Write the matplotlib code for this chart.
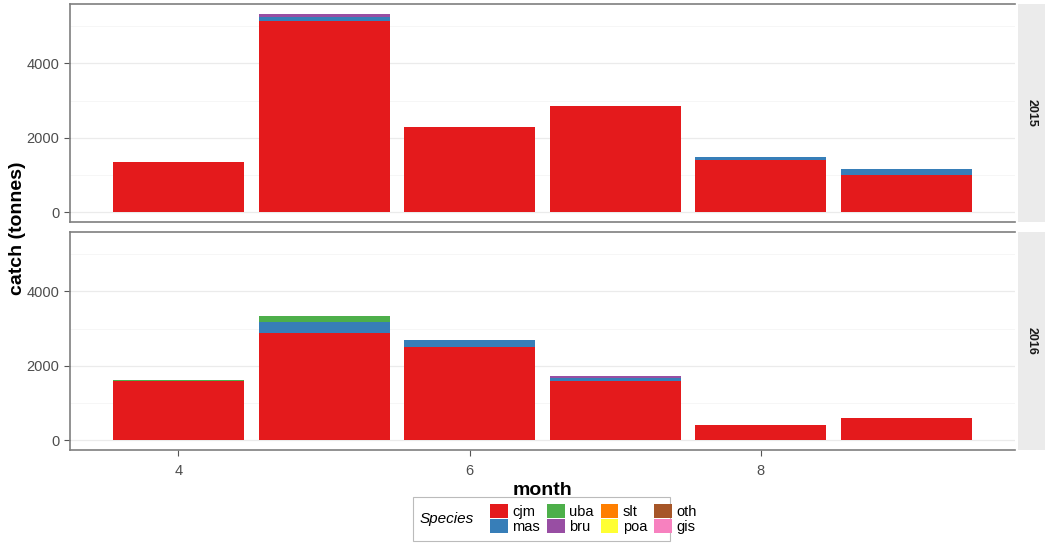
import numpy as np
import matplotlib.pyplot as plt
from matplotlib.patches import Rectangle, Patch

plt.rcParams['font.family'] = ['Liberation Sans', 'DejaVu Sans']

months = [4, 5, 6, 7, 8, 9]
species = ['cjm', 'mas', 'uba', 'bru', 'slt', 'poa', 'oth', 'gis']
colours = ['#E41A1C', '#377EB8', '#4DAF4A', '#984EA3',
           '#FF7F00', '#FFFF33', '#A65628', '#F781BF']

# catch in tonnes by month, one list per species
catch_2015 = {
    'cjm': [1350, 5130, 2290, 2850, 1400, 1000],
    'mas': [0, 120, 0, 0, 80, 160],
    'bru': [0, 80, 0, 0, 0, 0],
}
catch_2016 = {
    'cjm': [1580, 2890, 2510, 1580, 400, 600],
    'mas': [0, 300, 190, 100, 0, 0],
    'uba': [40, 160, 0, 0, 0, 0],
    'bru': [0, 0, 0, 50, 0, 0],
}
years = ['2015', '2016']

fig = plt.figure(figsize=(10.45, 5.43), dpi=100)
left, right = 70/1045, 1015/1045
panels = [(1-222/543, 1-4/543), (1-450/543, 1-232/543)]

axes = []
for (b, t), yr, data in zip(panels, years, [catch_2015, catch_2016]):
    ax = fig.add_axes([left, b, right-left, t-b])
    base = np.zeros(len(months))
    for sp, col in zip(species, colours):
        if sp not in data:
            continue
        vals = np.array(data[sp], dtype=float)
        ax.bar(months, vals, width=0.9, bottom=base, color=col, linewidth=0, zorder=3)
        base += vals
    ax.set_xlim(3.255, 9.745)
    ax.set_ylim(-266, 5598)
    ax.set_yticks([0, 2000, 4000])
    ax.set_yticks([1000, 3000, 5000], minor=True)
    ax.set_xticks([4, 6, 8])
    ax.grid(axis='y', which='major', color='#EBEBEB', lw=0.9, zorder=0)
    ax.grid(axis='y', which='minor', color='#F5F5F5', lw=0.6, zorder=0)
    ax.tick_params(axis='y', which='minor', length=0)
    ax.tick_params(which='major', length=4, width=0.8, color='#555555',
                   labelcolor='#4D4D4D', labelsize=10.5)
    for s in ['left', 'top', 'bottom']:
        ax.spines[s].set_color('#7F7F7F')
        ax.spines[s].set_linewidth(1.2)
    ax.spines['right'].set_visible(False)

    # facet strip on the right
    sax = fig.add_axes([1018/1045, b, 1-1018/1045, t-b])
    sax.set_facecolor('#EBEBEB')
    sax.set_xticks([]); sax.set_yticks([])
    for s in sax.spines.values():
        s.set_visible(False)
    sax.text(0.5, 0.5, yr, rotation=-90, ha='center', va='center',
             fontsize=9, fontweight='bold', color='#1A1A1A', transform=sax.transAxes)
    axes.append(ax)

axes[0].tick_params(axis='x', bottom=False, labelbottom=False)
axes[1].tick_params(axis='x', pad=6)
axes[1].set_xlabel('month', fontsize=14, fontweight='bold', labelpad=3)
fig.text(18/1045, 1-228/543, 'catch (tonnes)', rotation=90, ha='center', va='center',
         fontsize=14, fontweight='bold')

# legend, title placed to the left of the keys
handles = [Patch(facecolor=c, edgecolor='none') for c in colours]
fig.legend(handles, species, ncol=4, loc='center left',
           bbox_to_anchor=(480/1045, 1-519/543), frameon=False, fontsize=10.5,
           handlelength=1.2, handleheight=1.1, handletextpad=0.3,
           columnspacing=0.5, labelspacing=0.0, borderpad=0.2)
fig.text(420/1045, 1-519/543, 'Species', style='italic', fontsize=11,
         ha='left', va='center')
fig.patches.append(Rectangle((413/1045, 1-541/543), 257/1045, 44/543,
                             transform=fig.transFigure, fill=False,
                             edgecolor='#BBBBBB', lw=0.8))

fig.savefig('out.png', dpi=100)
